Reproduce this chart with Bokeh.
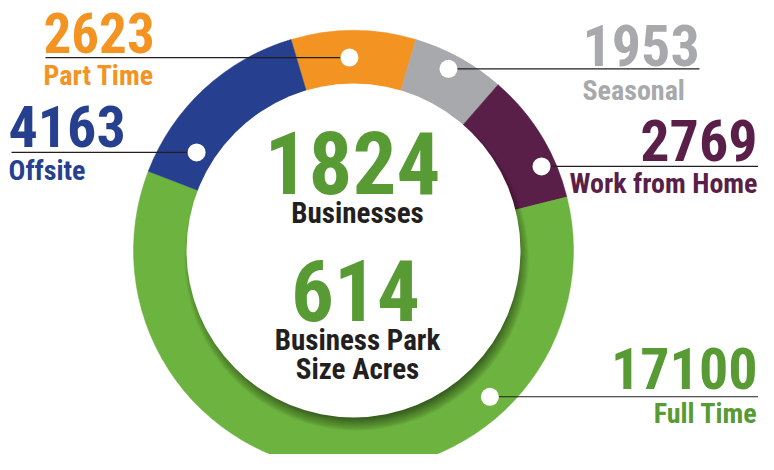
import math
from bokeh.plotting import figure
from bokeh.models import Range1d, ColumnDataSource
from bokeh.core.properties import value
from bokeh.embed import file_html
from bokeh.resources import INLINE

# ---------------- data ----------------
categories = ["Part Time", "Seasonal", "Work from Home", "Full Time", "Offsite"]
counts = [2623, 1953, 2769, 17100, 4163]
center_values = ["1824", "614"]
center_labels = [["Businesses"], ["Business Park", "Size Acres"]]

# ---------------- style / layout ----------------
ring_colors = ["#f39322", "#a7a9ac", "#5a1f48", "#6cb33f", "#263f8e"]
text_colors = ["#f39322", "#a7a9ac", "#5a1f48", "#589b35", "#263f8e"]
CENTER_GREEN = "#589b35"
DARK = "#231f20"
FONT = "Roboto Condensed"
BASE_FIX = 0.35            # baseline correction (fraction of font size)

CX, CY = 353, 250          # ring centre (page pixels, y down)
R_OUT, R_IN = 220, 167
START_DEG = 106.5          # where the first slice begins (math angle)

# per category: dot angle (deg clockwise from top), dot radius,
# label x, number baseline, number size, label baseline, align, leader end x
layout = {
    "Part Time":      (-1.2, 193, 43, 52, 55, 85, "left", 45),
    "Seasonal":       (27.6, 205, 582, 65, 58, 100, "left", 699),
    "Work from Home": (65.9, 206, 757, 160, 58, 193, "right", 760),
    "Full Time":      (137.0, 200, 757, 388, 58, 423, "right", 760),
    "Offsite":        (-58.0, 185, 8, 146, 58, 180, "left", 11),
}

def Y(ry):
    return 470 - ry

def TY(baseline, size):
    return Y(baseline - BASE_FIX * size)

p = figure(width=758, height=454, output_backend="svg", toolbar_location=None,
           x_range=Range1d(0, 758), y_range=Range1d(16, 470),
           x_axis_type=None, y_axis_type=None, min_border=0,
           background_fill_color="white", border_fill_color="white")
p.outline_line_color = None
p.grid.visible = False

# ---------------- ring ----------------
total = sum(counts)
starts, ends = [], []
cum = 0.0
for c in counts:
    a0 = START_DEG - cum / total * 360.0
    a1 = START_DEG - (cum + c) / total * 360.0
    starts.append(math.radians(a0))
    ends.append(math.radians(a1))
    cum += c
ring_src = ColumnDataSource(dict(x=[CX] * len(counts), y=[Y(CY)] * len(counts),
                                 start=starts, end=ends, color=ring_colors))
p.wedge(x="x", y="y", radius=R_OUT, start_angle="start", end_angle="end",
        direction="clock", fill_color="color", line_color="color", line_width=0.5,
        source=ring_src)

# soft inner shadow (cast by the centre disc toward the lower right)
n_sh = 30
sh_r = [R_IN - 9 + 0.5 * j for j in range(n_sh)]
p.circle(x=[CX + 3] * n_sh, y=[Y(CY) - 8] * n_sh, radius=sh_r,
         fill_color="black", fill_alpha=0.02, line_color=None)

# centre disc
p.circle(x=[CX], y=[Y(CY)], radius=R_IN, fill_color="white", line_color=None)

# ---------------- leaders, dots, labels ----------------
LAB_SIZE = 28
for cat, cnt, tcol in zip(categories, counts, text_colors):
    ang, rad, lx, nb, nsize, lb, align, lend = layout[cat]
    dx = CX + rad * math.sin(math.radians(ang))
    dy = CY - rad * math.cos(math.radians(ang))
    p.line(x=[dx, lend], y=[Y(dy), Y(dy)], line_color="#231f20", line_width=1.2)
    p.circle(x=[dx], y=[Y(dy)], radius=9, fill_color="white", line_color=None)
    p.text(x=[lx], y=[TY(nb, nsize)], text=[str(cnt)], text_color=tcol,
           text_font=value(FONT), text_font_style="bold", text_font_size=f"{nsize}px",
           text_align=align, text_baseline="alphabetic")
    p.text(x=[lx], y=[TY(lb, LAB_SIZE)], text=[cat], text_color=tcol,
           text_font=value(FONT), text_font_style="bold", text_font_size=f"{LAB_SIZE}px",
           text_align=align, text_baseline="alphabetic")

# ---------------- centre texts ----------------
p.text(x=[352], y=[TY(192, 87)], text=[center_values[0]], text_color=CENTER_GREEN,
       text_font=value(FONT), text_font_style="bold", text_font_size="87px",
       text_align="center", text_baseline="alphabetic")
p.text(x=[357], y=[TY(223, 29)], text=[center_labels[0][0]], text_color=DARK,
       text_font=value(FONT), text_font_style="bold", text_font_size="29px",
       text_align="center", text_baseline="alphabetic")
p.text(x=[355], y=[TY(320, 85)], text=[center_values[1]], text_color=CENTER_GREEN,
       text_font=value(FONT), text_font_style="bold", text_font_size="85px",
       text_align="center", text_baseline="alphabetic")
for line_txt, base in zip(center_labels[1], [350, 379]):
    p.text(x=[357], y=[TY(base, 29)], text=[line_txt], text_color=DARK,
           text_font=value(FONT), text_font_style="bold", text_font_size="29px",
           text_align="center", text_baseline="alphabetic")

open("out.html", "w").write(file_html(p, INLINE))
